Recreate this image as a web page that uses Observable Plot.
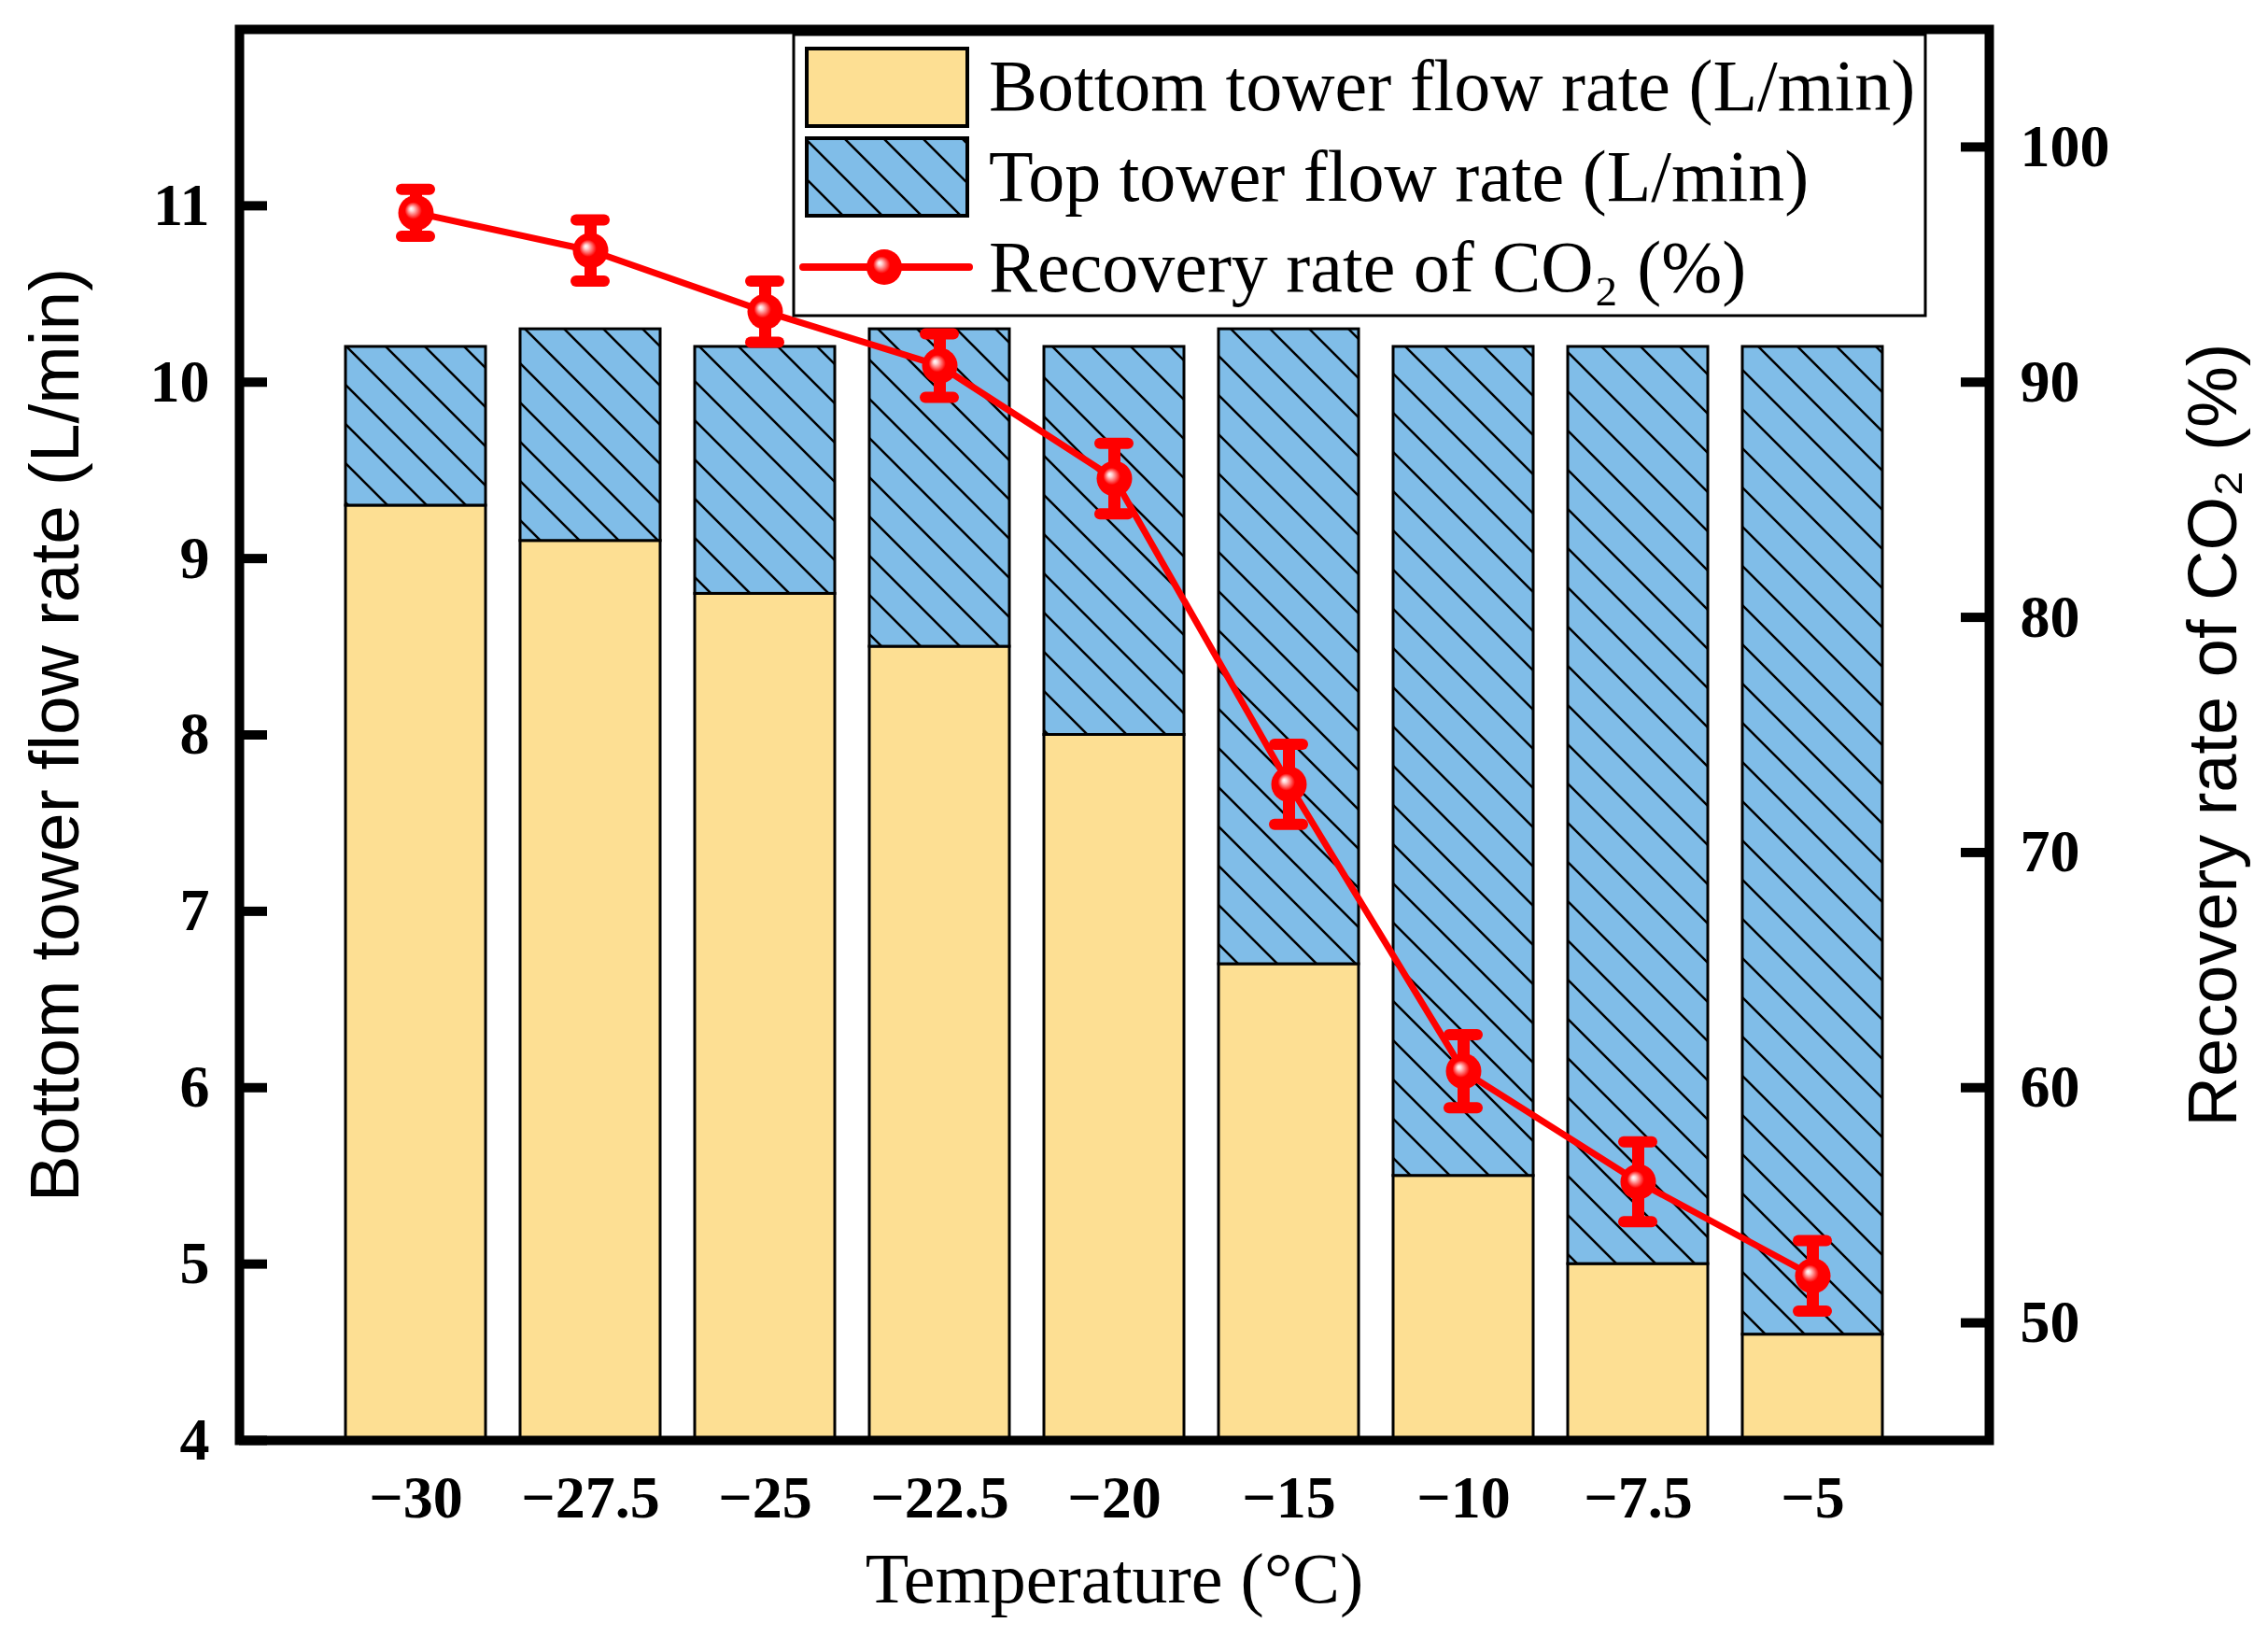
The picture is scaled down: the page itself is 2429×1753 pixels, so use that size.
<!DOCTYPE html>
<html>
<head>
<meta charset="utf-8">
<script src="https://cdn.jsdelivr.net/npm/d3@7"></script>
<script src="https://cdn.jsdelivr.net/npm/@observablehq/plot@0.6"></script>
<style>
  body { margin: 0; background: #fff; }
</style>
</head>
<body>
<div id="chart"></div>
<script>
const temperatures = [-30, -27.5, -25, -22.5, -20, -15, -10, -7.5, -5]
const bottomFlow = [9.3, 9.1, 8.8, 8.5, 8.0, 6.7, 5.5, 5.0, 4.6]
const topFlow = [0.9, 1.2, 1.4, 1.8, 2.2, 3.6, 4.7, 5.2, 5.6]
const recovery = [97.2, 95.6, 93.0, 90.7, 85.9, 72.9, 60.7, 56.0, 52.0]
const recoveryErr = [1.0, 1.3, 1.3, 1.35, 1.5, 1.7, 1.55, 1.7, 1.5]
const leftTicks = [4, 5, 6, 7, 8, 9, 10, 11]
const rightTicks = [50, 60, 70, 80, 90, 100]

// right axis (45-105 %) is drawn on top of the left scale (4-12 L/min)
const toLeft = r => 4 + (r - 45) * 8 / 60
const fromLeft = v => 45 + (v - 4) * 60 / 8

const data = temperatures.map((t, i) => ({
  t,
  bottom: bottomFlow[i],
  total: bottomFlow[i] + topFlow[i],
  rec: toLeft(recovery[i]),
  lo: toLeft(recovery[i] - recoveryErr[i]),
  hi: toLeft(recovery[i] + recoveryErr[i])
}))

const W = 2429, H = 1753
const mL = 256, mR = 299, mT = 31, mB = 211
const plotW = W - mL - mR
const tickFont = {fontSize: 64, fontWeight: "bold", fontFamily: "Liberation Serif"}

let chart = Plot.plot({
  width: W,
  height: H,
  marginLeft: mL,
  marginRight: mR,
  marginTop: mT,
  marginBottom: mB,
  style: {background: "white", color: "black", fontFamily: "Liberation Serif"},
  x: {type: "band", domain: temperatures, paddingInner: 0.2, paddingOuter: 0.6, axis: null, label: null},
  y: {domain: [4, 12], axis: null, label: null},
  marks: [
    Plot.barY(data, {x: "t", y1: 4, y2: "bottom", fill: "#fddf93", stroke: "black", strokeWidth: 3}),
    Plot.barY(data, {x: "t", y1: "bottom", y2: "total", fill: "url(#hatch)", stroke: "black", strokeWidth: 3}),
    Plot.frame({stroke: "black", strokeWidth: 10}),
    // inward ticks
    Plot.tickY(leftTicks, {y: d => d, insetRight: plotW - 30, stroke: "black", strokeWidth: 10}),
    Plot.tickY(rightTicks, {y: toLeft, insetLeft: plotW - 30, stroke: "black", strokeWidth: 10}),
    Plot.axisY(leftTicks, {anchor: "left", tickSize: 0, tickPadding: 32, label: null,
      tickFormat: d => String(d), ...tickFont}),
    Plot.axisY(rightTicks.map(toLeft), {anchor: "right", tickSize: 0, tickPadding: 33, label: null,
      tickFormat: d => String(Math.round(fromLeft(d))), ...tickFont}),
    Plot.axisX({tickSize: 0, tickPadding: 37, label: null,
      tickFormat: d => d < 0 ? "\u2212" + (-d) : String(d), ...tickFont}),
    // axis titles
    Plot.text(["Bottom tower flow rate (L/min)"], {text: d => d, frameAnchor: "left", dx: -197, rotate: -90,
      textAnchor: "middle", fontSize: 75, fontFamily: "Liberation Sans", lineAnchor: "middle"}),
    Plot.text(["Recovery rate of CO\u2082 (%)"], {text: d => d, frameAnchor: "right", dx: 241, rotate: -90,
      textAnchor: "middle", fontSize: 74, fontFamily: "Liberation Sans", lineAnchor: "middle"}),
    Plot.text(["Temperature (°C)"], {text: d => d, frameAnchor: "bottom", dy: 149,
      textAnchor: "middle", fontSize: 76, fontFamily: "Liberation Serif", lineAnchor: "middle"}),
    // recovery rate with error bars
    Plot.line(data, {x: "t", y: "rec", stroke: "#ff0000", strokeWidth: 7}),
    Plot.ruleX(data, {x: "t", y1: "lo", y2: "hi", stroke: "#ff0000", strokeWidth: 13}),
    Plot.tickY(data, {x: "t", y: "lo", stroke: "#ff0000", strokeWidth: 12, strokeLinecap: "round", insetLeft: 60, insetRight: 60}),
    Plot.tickY(data, {x: "t", y: "hi", stroke: "#ff0000", strokeWidth: 12, strokeLinecap: "round", insetLeft: 60, insetRight: 60}),
    Plot.dot(data, {x: "t", y: "rec", r: 19, fill: "url(#ball)", stroke: "none"})
  ]
})

d3.select('#chart').append(() => chart)

const svg = d3.select(chart)
const defs = svg.insert("defs", ":first-child")
const pat = defs.append("pattern").attr("id", "hatch")
  .attr("patternUnits", "userSpaceOnUse").attr("width", 42).attr("height", 42)
pat.append("rect").attr("width", 42).attr("height", 42).attr("fill", "#80bde8")
pat.append("path").attr("d", "M-5,-5L47,47M-5,37L5,47M37,-5L47,5")
  .attr("stroke", "black").attr("stroke-width", 2.5)

const grad = defs.append("radialGradient").attr("id", "ball")
  .attr("cx", "50%").attr("cy", "50%").attr("r", "50%").attr("fx", "36%").attr("fy", "38%")
grad.append("stop").attr("offset", "0%").attr("stop-color", "#ffffff")
grad.append("stop").attr("offset", "12%").attr("stop-color", "#ffd4d4")
grad.append("stop").attr("offset", "30%").attr("stop-color", "#ff6a6a")
grad.append("stop").attr("offset", "48%").attr("stop-color", "#ff0000")
grad.append("stop").attr("offset", "100%").attr("stop-color", "#ff0000")

// legend
const lg = svg.append("g")
lg.append("rect").attr("x", 850).attr("y", 37).attr("width", 1212).attr("height", 301)
  .attr("fill", "white").attr("stroke", "black").attr("stroke-width", 3)
lg.append("rect").attr("x", 864).attr("y", 52).attr("width", 172).attr("height", 83)
  .attr("fill", "#fddf93").attr("stroke", "black").attr("stroke-width", 4)
lg.append("rect").attr("x", 864).attr("y", 148).attr("width", 172).attr("height", 83)
  .attr("fill", "url(#hatch)").attr("stroke", "black").attr("stroke-width", 4)
lg.append("line").attr("x1", 860).attr("x2", 1038).attr("y1", 286).attr("y2", 286)
  .attr("stroke", "#ff0000").attr("stroke-width", 8).attr("stroke-linecap", "round")
lg.append("circle").attr("cx", 947).attr("cy", 286).attr("r", 19).attr("fill", "url(#ball)")

const legendLabels = ["Bottom tower flow rate (L/min)", "Top tower flow rate (L/min)", "Recovery rate of CO\u2082 (%)"]
const baselines = [118, 215, 312]
legendLabels.forEach((s, i) => {
  lg.append("text").attr("x", 1059).attr("y", baselines[i])
    .attr("text-anchor", "start")
    .attr("font-family", "Liberation Serif").attr("font-size", 78).attr("fill", "black")
    .text(s)
})
</script>
</body>
</html>
